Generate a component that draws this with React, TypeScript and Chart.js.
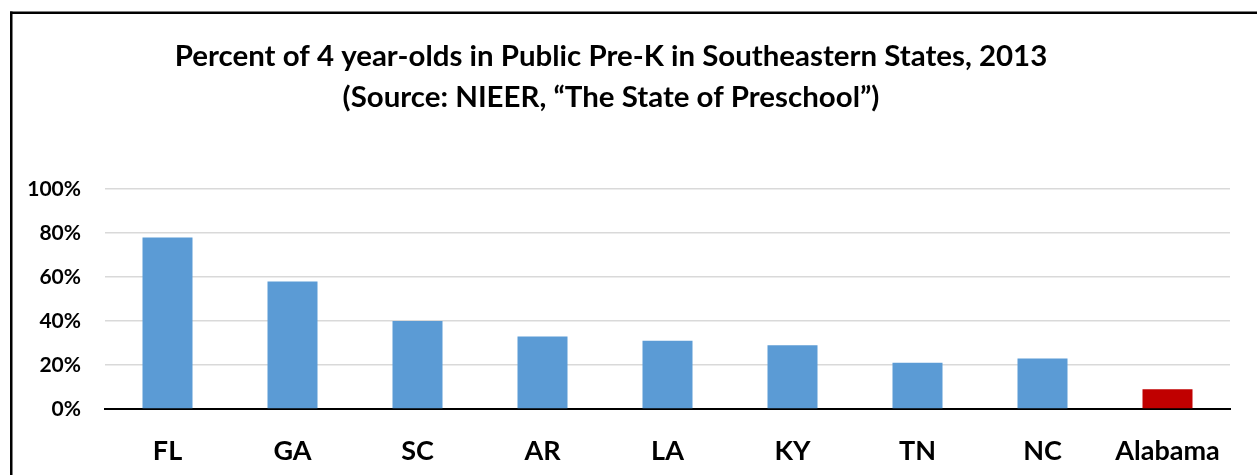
import React, { useEffect, useRef } from "react";
import { Chart, registerables } from "chart.js";

Chart.register(...registerables);

const categories = ["FL", "GA", "SC", "AR", "LA", "KY", "TN", "NC", "Alabama"];
const values = [78, 58, 40, 33, 31, 29, 21, 23, 9];
const barColors = ["#5B9BD5", "#5B9BD5", "#5B9BD5", "#5B9BD5", "#5B9BD5", "#5B9BD5", "#5B9BD5", "#5B9BD5", "#C00000"];
const titleLines = [
  "Percent of 4 year-olds in Public Pre-K in Southeastern States, 2013",
  "(Source: NIEER, \u201cThe State of Preschool\u201d)",
];
const yTicks = [0, 20, 40, 60, 80, 100];

const FONT = "Lato, 'Open Sans', sans-serif";

const framePlugin = {
  id: "frameAndTitle",
  beforeDraw(chart: any) {
    const ctx = chart.ctx;
    ctx.save();
    ctx.fillStyle = "#ffffff";
    ctx.fillRect(0, 0, chart.width, chart.height);
    ctx.fillStyle = "#000000";
    ctx.fillRect(10, 11.5, chart.width - 10, 2.5);
    ctx.fillRect(10, 11.5, 2.5, chart.height - 11.5);
    ctx.restore();
  },
  afterDraw(chart: any) {
    const ctx = chart.ctx;
    ctx.save();
    ctx.fillStyle = "#000000";
    ctx.textAlign = "center";
    ctx.textBaseline = "alphabetic";
    ctx.font = `bold 26px ${FONT}`;
    const w = ctx.measureText(titleLines[0]).width;
    const size = (26 * 873) / w;
    ctx.font = `bold ${size}px ${FONT}`;
    ctx.fillText(titleLines[0], 611, 66);
    ctx.fillText(titleLines[1], 611, 107);
    ctx.restore();
  },
};

export default function App() {
  const ref = useRef<HTMLCanvasElement | null>(null);
  useEffect(() => {
    if (!ref.current) return;
    const chart = new Chart(ref.current, {
      type: "bar",
      data: {
        labels: categories,
        datasets: [
          {
            data: values,
            backgroundColor: barColors,
            borderWidth: 0,
            barPercentage: 0.4,
            categoryPercentage: 1,
          },
        ],
      },
      options: {
        animation: false,
        responsive: false,
        maintainAspectRatio: false,
        layout: { padding: { left: 0, right: 27, top: 189, bottom: 0 } },
        plugins: {
          legend: { display: false },
          title: { display: false },
          tooltip: { enabled: false },
        },
        scales: {
          x: {
            grid: { display: false },
            border: { display: true, color: "#000000", width: 2 },
            ticks: {
              color: "#000000",
              padding: 18,
              font: { family: FONT, size: 27, weight: "bold" },
            },
            afterFit(scale: any) {
              scale.height = 66;
            },
          },
          y: {
            min: 0,
            max: 100,
            afterBuildTicks(scale: any) {
              scale.ticks = yTicks.map((v) => ({ value: v }));
            },
            grid: { color: "#D9D9D9", lineWidth: 1.5, drawTicks: false },
            border: { display: false },
            ticks: {
              color: "#000000",
              padding: 24,
              font: { family: FONT, size: 21, weight: "bold" },
              callback: (v: any) => `${v}%`,
            },
            afterFit(scale: any) {
              scale.width = 105;
            },
          },
        },
      },
      plugins: [framePlugin],
    });
    return () => chart.destroy();
  }, []);
  return (
    <div style={{ position: "fixed", left: 0, top: 0, width: 1257, height: 475 }}>
      <canvas ref={ref} width={1257} height={475} style={{ width: 1257, height: 475, display: "block" }} />
    </div>
  );
}
